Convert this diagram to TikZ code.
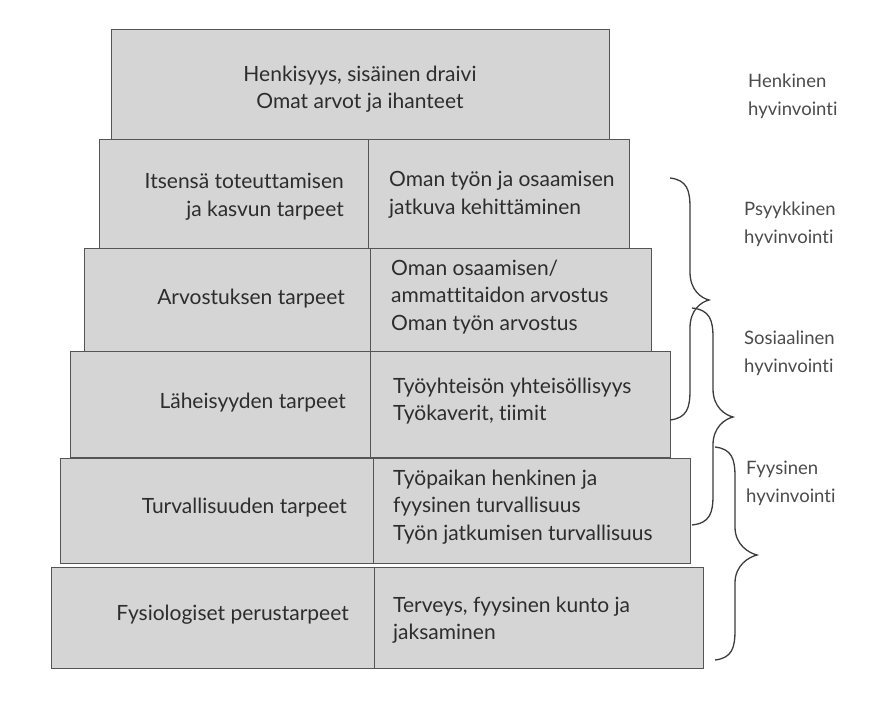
\documentclass[tikz,border=0pt]{standalone}
\usepackage{fontspec}
\setmainfont{Lato}[Ligatures=NoCommon]
\definecolor{boxfill}{RGB}{213,213,213}
\definecolor{boxline}{RGB}{85,85,85}
\definecolor{txt}{RGB}{45,45,45}
\definecolor{lblc}{RGB}{75,75,75}
\definecolor{bracec}{RGB}{60,60,60}
\newcommand\fs{\fontsize{21}{27.5}\selectfont}
\newcommand\fl{\fontsize{18.5}{28}\selectfont}
\newcommand\curlybr[6]{% xe, ytop, ybot, xspine, xtip, ymid
  \draw[brc] (#1,#2) .. controls ({#4-3},{#2+2}) and (#4,{#2+12}) .. (#4,{#2+30})
    -- (#4,{#6-28})
    .. controls (#4,{#6-10}) and ({#5-8},{#6-2}) .. (#5,#6)
    .. controls ({#5-8},{#6+2}) and (#4,{#6+10}) .. (#4,{#6+28})
    -- (#4,{#3-30})
    .. controls (#4,{#3-12}) and ({#4-3},{#3-2}) .. (#1,#3);}
\begin{document}
\begin{tikzpicture}[x=1pt,y=-1pt,
  cell/.style={draw=boxline, line width=1pt, fill=boxfill, rectangle, inner sep=0pt, anchor=north west},
  ct/.style={anchor=center, align=center, text=txt, font=\fs, inner sep=0pt},
  lt/.style={anchor=east, align=right, text=txt, font=\fs, inner sep=0pt},
  rt/.style={anchor=west, align=left, text=txt, font=\fs, inner sep=0pt},
  lbl/.style={anchor=west, align=left, text=lblc, font=\fl, inner sep=0pt},
  brc/.style={draw=bracec, line width=1.3pt}]
\useasboundingbox (0,0) rectangle (870,711);
% cells
\node[cell, minimum width=498pt, minimum height=111pt] (c1) at (111,29) {};
\node[cell, minimum width=269pt, minimum height=110pt] (c2l) at (99,139) {};
\node[cell, minimum width=261pt, minimum height=110pt] (c2r) at (368,139) {};
\node[cell, minimum width=286pt, minimum height=104pt] (c3l) at (84,248) {};
\node[cell, minimum width=281pt, minimum height=104pt] (c3r) at (370,248) {};
\node[cell, minimum width=300pt, minimum height=106pt] (c4l) at (70,351) {};
\node[cell, minimum width=300pt, minimum height=106pt] (c4r) at (370,351) {};
\node[cell, minimum width=313pt, minimum height=105pt] (c5l) at (60,458) {};
\node[cell, minimum width=317pt, minimum height=105pt] (c5r) at (373,458) {};
\node[cell, minimum width=323pt, minimum height=101pt] (c6l) at (51,567) {};
\node[cell, minimum width=329pt, minimum height=101pt] (c6r) at (374,567) {};
% texts
\node[ct] (t1) at (360,89) {Henkisyys, sisäinen draivi\\Omat arvot ja ihanteet};
\node[lt] (t2l) at (344,197) {Itsensä toteuttamisen\\ja kasvun tarpeet};
\node[rt] (t2r) at (389,195) {Oman työn ja osaamisen\\jatkuva kehittäminen};
\node[lt] (t3l) at (345,299) {Arvostuksen tarpeet};
\node[rt] (t3r) at (391,297) {Oman osaamisen/\\ammattitaidon arvostus\\Oman työn arvostus};
\node[lt] (t4l) at (346,403) {Läheisyyden tarpeet};
\node[rt] (t4r) at (393,401) {Työyhteisön yhteisöllisyys\\Työkaverit, tiimit};
\node[lt] (t5l) at (347,508) {Turvallisuuden tarpeet};
\node[rt] (t5r) at (393,507) {Työpaikan henkinen ja\\fyysinen turvallisuus\\Työn jatkumisen turvallisuus};
\node[lt] (t6l) at (349,615) {Fysiologiset perustarpeet};
\node[rt] (t6r) at (393,620) {Terveys, fyysinen kunto ja\\jaksaminen};
% braces
\curlybr{670}{178}{420}{690}{709}{300}
\curlybr{692}{308}{525}{713}{733}{417}
\curlybr{715}{447}{660}{735}{757}{555}
% labels
\node[lbl] (l1) at (748,96) {Henkinen\\hyvinvointi};
\node[lbl] (l2) at (744,224) {Psyykkinen\\hyvinvointi};
\node[lbl] (l3) at (744,353) {Sosiaalinen\\hyvinvointi};
\node[lbl] (l4) at (746,483) {Fyysinen\\hyvinvointi};
\end{tikzpicture}
\end{document}
